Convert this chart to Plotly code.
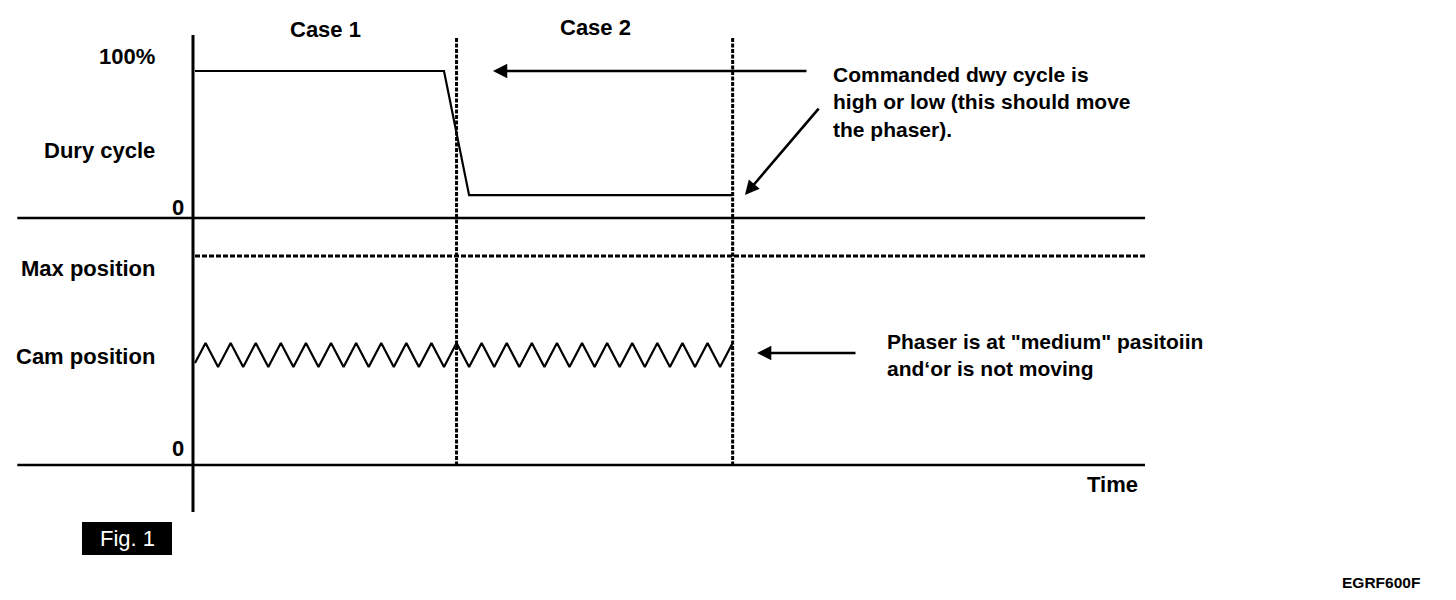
import plotly.graph_objects as go

# ---------------- data ----------------
# time in units of one cam oscillation period; t=0 at the vertical axis
case_labels = ["Case 1", "Case 2"]
case_bounds = [10.5, 21.5]          # dashed boundaries (end of case 1, end of case 2)

duty_time = [0.08, 10.0, 11.0, 21.5]
duty_value = [100, 100, 15.5, 15.5]  # commanded duty cycle, %

cam_time = [0.08, 0.5, 1.0, 1.5, 2.0, 2.5, 3.0, 3.5, 4.0, 4.5, 5.0, 5.5, 6.0,
            6.5, 7.0, 7.5, 8.0, 8.5, 9.0, 9.5, 10.0, 10.5, 11.0, 11.5, 12.0,
            12.5, 13.0, 13.5, 14.0, 14.5, 15.0, 15.5, 16.0, 16.5, 17.0, 17.5,
            18.0, 18.5, 19.0, 19.5, 20.0, 20.5, 21.0, 21.5]
cam_value = [48.8, 58.4, 46.9, 58.4, 46.9, 58.4, 46.9, 58.4, 46.9, 58.4, 46.9,
             58.4, 46.9, 58.4, 46.9, 58.4, 46.9, 58.4, 46.9, 58.4, 46.9, 58.4,
             46.9, 58.4, 46.9, 58.4, 46.9, 58.4, 46.9, 58.4, 46.9, 58.4, 46.9,
             58.4, 46.9, 58.4, 46.9, 58.4, 46.9, 58.4, 46.9, 58.4, 46.9, 58.4]

max_time = [0.08, 38.0]
max_value = [100, 100]               # max cam position

baseline_time = [-7.0, 37.93]

FONT = "Arial, Liberation Sans, Helvetica, sans-serif"
PAGE_MARGIN = 8                      # default body margin of the html page
W, H = 1456 - PAGE_MARGIN, 600 - PAGE_MARGIN


def px(x):
    return (x - PAGE_MARGIN) / W


def py(y):
    return 1 - (y - PAGE_MARGIN) / H


fig = go.Figure()

# duty cycle trace (y axis 1)
fig.add_trace(go.Scatter(x=duty_time, y=duty_value, mode="lines",
                         line=dict(color="black", width=2.2), yaxis="y",
                         showlegend=False, hoverinfo="skip"))
# baseline of duty panel
fig.add_trace(go.Scatter(x=baseline_time, y=[0, 0], mode="lines",
                         line=dict(color="black", width=2.6), yaxis="y",
                         showlegend=False, hoverinfo="skip"))

# cam position traces (y axis 2)
fig.add_trace(go.Scatter(x=max_time, y=max_value, mode="lines",
                         line=dict(color="black", width=3, dash="5px,2px"),
                         yaxis="y2", showlegend=False, hoverinfo="skip"))
fig.add_trace(go.Scatter(x=cam_time, y=cam_value, mode="lines",
                         line=dict(color="black", width=2.2), yaxis="y2",
                         showlegend=False, hoverinfo="skip"))
fig.add_trace(go.Scatter(x=baseline_time, y=[0, 0], mode="lines",
                         line=dict(color="black", width=2.6), yaxis="y2",
                         showlegend=False, hoverinfo="skip"))

shapes = []
# vertical (time origin) axis
shapes.append(dict(type="line", xref="x", yref="paper", x0=0, x1=0,
                   y0=py(35), y1=py(512), line=dict(color="black", width=3)))
# dashed case boundaries
for b in case_bounds:
    shapes.append(dict(type="line", xref="x", yref="paper", x0=b, x1=b,
                       y0=py(38), y1=py(465),
                       line=dict(color="black", width=3, dash="4px,1.5px")))
# Fig. 1 box
shapes.append(dict(type="rect", xref="paper", yref="paper",
                   x0=px(82), x1=px(172), y0=py(522), y1=py(555),
                   fillcolor="black", line=dict(width=0)))

ann = []


def label(text, x, y, xanchor="center", size=22, color="black", bold=True):
    ann.append(dict(text=text, xref="paper", yref="paper", x=px(x), y=py(y),
                    xanchor=xanchor, yanchor="middle", showarrow=False,
                    align="left",
                    font=dict(family=FONT, size=size, color=color,
                              weight="bold" if bold else "normal")))


# case titles
label(case_labels[0], 325, 29)
label(case_labels[1], 595, 28)
# left labels
label("100%", 157, 56, "right")
label("Dury cycle", 157, 150, "right")
label("0", 186, 207, "right")
label("Max position", 157, 268, "right")
label("Cam position", 157, 357, "right")
label("0", 186, 448, "right")
label("Time", 1140, 484, "right")
label("EGRF600F", 1422, 582, "right", size=15.5)
label("Fig. 1", 127, 538, "center", size=22, color="white", bold=False)
# explanatory texts
label("Commanded dwy cycle is<br>high or low (this should move<br>the phaser).",
      831, 102, "left", size=21)
label("Phaser is at \"medium\" pasitoiin<br>and‘or is not moving",
      885, 355, "left", size=21)

# arrows
arrow_common = dict(showarrow=True, text="", arrowhead=2, arrowsize=1.1,
                    arrowwidth=2.6, arrowcolor="black", axref="pixel",
                    ayref="pixel", standoff=0)
ann.append(dict(x=11.95, y=100, xref="x", yref="y", ax=315, ay=0, **arrow_common))
ann.append(dict(x=21.99, y=15.6, xref="x", yref="y", ax=75, ay=-88, **arrow_common))
ann.append(dict(x=22.47, y=53.6, xref="x", yref="y2", ax=100, ay=0, **arrow_common))

# pixel-to-data mapping (figure pixels): t=0 at page x=193, 25.1 px per unit
x0_pix = 193 - PAGE_MARGIN
x_range = [-x0_pix / 25.1, (W - x0_pix) / 25.1]
# duty: 0 at page y=218, 100 at page y=71
duty_scale = (218 - 71) / 100
d0 = 218 - PAGE_MARGIN
y_range = [(d0 - H) / duty_scale, d0 / duty_scale]
# cam: 0 at page y=465, 100 (max) at page y=256
cam_scale = (465 - 256) / 100
c0 = 465 - PAGE_MARGIN
y2_range = [(c0 - H) / cam_scale, c0 / cam_scale]

fig.update_layout(
    width=W, height=H,
    margin=dict(l=0, r=0, t=0, b=0),
    paper_bgcolor="white", plot_bgcolor="white",
    xaxis=dict(range=x_range, visible=False, fixedrange=True),
    yaxis=dict(range=y_range, visible=False, fixedrange=True, domain=[0, 1]),
    yaxis2=dict(range=y2_range, visible=False, fixedrange=True,
                overlaying="y", side="right"),
    shapes=shapes,
    annotations=ann,
    showlegend=False,
)

fig.write_html("out.html", config={"displayModeBar": False})
